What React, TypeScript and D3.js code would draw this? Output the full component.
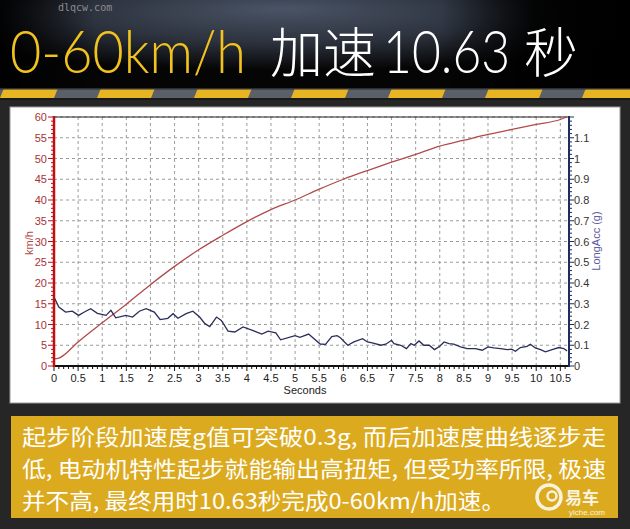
import React from "react";
import * as d3 from "d3";

const speedTime = [0, 0.1, 0.5, 1.0, 1.5, 2.0, 2.5, 3.0, 3.5, 4.0, 4.5, 5.0, 5.5, 6.0, 6.5, 7.0, 7.5, 8.0, 8.5, 9.0, 9.5, 10.0, 10.5, 10.63];
const speedKmh = [1.7, 1.9, 5.8, 10.4, 14.9, 19.6, 24.0, 28.0, 31.5, 34.8, 37.7, 40.0, 42.6, 45.0, 47.1, 49.1, 51.0, 53.0, 54.4, 55.8, 57.0, 58.2, 59.4, 60.0];

const accTime = [0, 0.1, 0.24, 0.38, 0.51, 0.63, 0.76, 0.9, 1.08, 1.18, 1.28, 1.49, 1.63, 1.77, 1.91, 2.08, 2.2, 2.36, 2.47, 2.57, 2.74, 2.88, 3.02, 3.13, 3.23, 3.37, 3.47, 3.61, 3.75, 3.92, 4.13, 4.31, 4.44, 4.6, 4.7, 5.0, 5.1, 5.28, 5.52, 5.63, 5.76, 5.87, 5.94, 6.09, 6.22, 6.4, 6.5, 6.6, 6.78, 6.88, 7.0, 7.05, 7.19, 7.31, 7.4, 7.47, 7.57, 7.67, 7.78, 7.89, 8.0, 8.09, 8.19, 8.29, 8.43, 8.57, 8.74, 8.88, 9.0, 9.12, 9.26, 9.4, 9.49, 9.57, 9.67, 9.81, 9.88, 9.98, 10.09, 10.19, 10.33, 10.47, 10.57, 10.64];
const accG = [0.332, 0.284, 0.26, 0.264, 0.244, 0.26, 0.276, 0.254, 0.244, 0.268, 0.232, 0.244, 0.236, 0.264, 0.276, 0.26, 0.224, 0.23, 0.252, 0.23, 0.252, 0.264, 0.236, 0.204, 0.19, 0.236, 0.22, 0.168, 0.164, 0.188, 0.17, 0.154, 0.168, 0.16, 0.126, 0.146, 0.138, 0.154, 0.106, 0.104, 0.142, 0.146, 0.136, 0.1, 0.116, 0.132, 0.116, 0.111, 0.1, 0.105, 0.124, 0.108, 0.1, 0.084, 0.108, 0.1, 0.121, 0.1, 0.1, 0.079, 0.095, 0.116, 0.108, 0.105, 0.092, 0.084, 0.084, 0.076, 0.092, 0.087, 0.084, 0.079, 0.081, 0.071, 0.089, 0.095, 0.105, 0.087, 0.079, 0.068, 0.079, 0.089, 0.084, 0.073];

const xTicks = [0, 0.5, 1, 1.5, 2, 2.5, 3, 3.5, 4, 4.5, 5, 5.5, 6, 6.5, 7, 7.5, 8, 8.5, 9, 9.5, 10, 10.5];
const leftTicks = [0, 5, 10, 15, 20, 25, 30, 35, 40, 45, 50, 55, 60];
const rightTicks = [0, 0.1, 0.2, 0.3, 0.4, 0.5, 0.6, 0.7, 0.8, 0.9, 1, 1.1];

const titleYellow = "0-60km/h";
const titleCjk1 = "加速";
const titleNum = "10.63";
const titleCjk2 = "秒";
const captionLines = [
  "起步阶段加速度g值可突破0.3g, 而后加速度曲线逐步走",
  "低, 电动机特性起步就能输出高扭矩, 但受功率所限, 极速",
  "并不高, 最终用时10.63秒完成0-60km/h加速。",
];
const captionWidths = [584, 584, 483];

export default function App() {
  const W = 630, H = 529;
  const x = d3.scaleLinear().domain([0, 10.68]).range([54, 569]);
  const yL = d3.scaleLinear().domain([0, 60]).range([366, 117]);
  const yR = d3.scaleLinear().domain([0, 1.2]).range([366, 117]);

  const speedLine = d3.line<number>().x((_, i) => x(speedTime[i])).y((d) => yL(d)).curve(d3.curveMonotoneX);
  const accLine = d3.line<number>().x((_, i) => x(accTime[i])).y((d) => yR(d));

  const xMinor = d3.range(0, 10.65, 0.1);
  const lMinor = d3.range(0, 60.01, 1);
  const rMinor = d3.range(0, 1.201, 0.02);

  const stripes = d3.range(-1, 8).map((i) => i * 97);
  const cjk = "'Noto Sans CJK SC', 'Noto Sans', sans-serif";
  const light = "Lato, 'Open Sans', sans-serif";
  const axisFont = "'Liberation Sans', Arial, sans-serif";

  return (
    <svg width={W} height={H} style={{ position: "absolute", left: 0, top: 0, display: "block" }}>
      <defs>
        <radialGradient id="titleBg" cx="0.45" cy="0.2" r="0.6" fx="0.45" fy="0.1">
          <stop offset="0" stopColor="#4a5466" />
          <stop offset="0.55" stopColor="#2c323d" />
          <stop offset="1" stopColor="#050505" />
        </radialGradient>
        <linearGradient id="sideFade" x1="0" x2="1" y1="0" y2="0">
          <stop offset="0" stopColor="#000" stopOpacity="0.9" />
          <stop offset="0.15" stopColor="#000" stopOpacity="0" />
          <stop offset="0.7" stopColor="#000" stopOpacity="0" />
          <stop offset="0.85" stopColor="#000" stopOpacity="0.9" />
          <stop offset="1" stopColor="#000" stopOpacity="1" />
        </linearGradient>
        <clipPath id="stripeClip">
          <rect x={0} y={88} width={W} height={10} />
        </clipPath>
      </defs>
      <rect x={0} y={0} width={W} height={H} fill="#262626" />
      <rect x={0} y={0} width={W} height={88} fill="url(#titleBg)" />
      <rect x={0} y={0} width={W} height={88} fill="url(#sideFade)" />
      <text x={58} y={11} fontFamily="'DejaVu Sans Mono', monospace" fontSize={10} fill="#8c8c8c">dlqcw.com</text>
      <text x={10} y={73} fontFamily={light} fontWeight={300} fontSize={60} fill="#f2c21f" textLength={236} lengthAdjust="spacingAndGlyphs">{titleYellow}</text>
      <text x={270} y={73} fontFamily={cjk} fontWeight={300} fontSize={54} fill="#ffffff" textLength={106} lengthAdjust="spacingAndGlyphs">{titleCjk1}</text>
      <text transform="translate(383,73) scale(0.83,1)" fontFamily={light} fontWeight={300} fontSize={60} fill="#ffffff">{titleNum}</text>
      <text x={524} y={73} fontFamily={cjk} fontWeight={300} fontSize={54} fill="#ffffff">{titleCjk2}</text>
      <rect x={0} y={88} width={W} height={10} fill="#5b6068" />
      <g clipPath="url(#stripeClip)">
        {stripes.map((s) => (
          <polygon key={s} points={`${s + 4},88 ${s + 58},88 ${s + 54},98 ${s},98`} fill="#e8b522" />
        ))}
      </g>
      <rect x={0} y={88} width={W} height={1.5} fill="#2b2e33" />
      <rect x={0} y={98} width={W} height={2} fill="#1a1a1a" />

      <rect x={10} y={107} width={610} height={296} fill="#ffffff" stroke="#9a9a9a" strokeWidth={1} />

      {xTicks.map((t) => (
        <line key={"gx" + t} x1={x(t)} x2={x(t)} y1={117} y2={366} stroke="#9c9c9c" strokeDasharray="3,3" />
      ))}
      {leftTicks.map((t) => (
        <line key={"gy" + t} x1={54} x2={569} y1={yL(t)} y2={yL(t)} stroke="#9c9c9c" strokeDasharray="3,3" />
      ))}
      <line x1={54} x2={569} y1={117} y2={117} stroke="#222" strokeWidth={1.2} />

      <path d={speedLine(speedKmh) || ""} fill="none" stroke="#b24a4a" strokeWidth={1.3} />
      <path d={accLine(accG) || ""} fill="none" stroke="#2b2d5a" strokeWidth={1.3} />

      <line x1={54} x2={569} y1={366} y2={366} stroke="#111" strokeWidth={2} />
      {xMinor.map((t, i) => (
        <line key={"xm" + i} x1={x(t)} x2={x(t)} y1={366} y2={i % 5 === 0 ? 371 : 369} stroke="#111" strokeWidth={1} />
      ))}
      {xTicks.map((t) => (
        <text key={"xl" + t} x={x(t)} y={382} textAnchor="middle" fontFamily={axisFont} fontSize={11} fill="#222">{t}</text>
      ))}
      <text x={305} y={394} textAnchor="middle" fontFamily={axisFont} fontSize={11} fill="#222">Seconds</text>

      <line x1={54} x2={54} y1={116} y2={367} stroke="#c01010" strokeWidth={2.5} />
      {lMinor.map((t, i) => (
        <line key={"lm" + i} x1={i % 5 === 0 ? 48 : 51} x2={54} y1={yL(t)} y2={yL(t)} stroke="#c01010" strokeWidth={1} />
      ))}
      {leftTicks.map((t) => (
        <text key={"ll" + t} x={47} y={yL(t) + 4} textAnchor="end" fontFamily={axisFont} fontSize={11} fill="#a83232">{t}</text>
      ))}
      <text transform="translate(33,243) rotate(-90)" textAnchor="middle" fontFamily={axisFont} fontSize={11} fill="#b04848">km/h</text>

      <line x1={569} x2={569} y1={116} y2={367} stroke="#1f2c5e" strokeWidth={2} />
      {rMinor.map((t, i) => (
        <line key={"rm" + i} x1={569} x2={i % 5 === 0 ? 574 : 572} y1={yR(t)} y2={yR(t)} stroke="#1f2c5e" strokeWidth={1} />
      ))}
      {rightTicks.map((t) => (
        <text key={"rl" + t} x={574} y={yR(t) + 4} textAnchor="start" fontFamily={axisFont} fontSize={11} fill="#333">{t}</text>
      ))}
      <text transform="translate(600,241) rotate(-90)" textAnchor="middle" fontFamily={axisFont} fontSize={11} fill="#5a5a9e">LongAcc (g)</text>

      <rect x={11} y={416} width={607} height={102} fill="#dcaa1e" />
      {captionLines.map((l, i) => (
        <text key={"c" + i} x={22} y={445 + i * 31.9} fontFamily={cjk} fontSize={22} fill="#ffffff"
          textLength={captionWidths[i]} lengthAdjust="spacingAndGlyphs">{l}</text>
      ))}
      <g opacity={0.85}>
        <circle cx={549} cy={497} r={12} fill="none" stroke="#ffffff" strokeWidth={3.5} />
        <circle cx={552} cy={496} r={4.5} fill="none" stroke="#ffffff" strokeWidth={2.5} />
        <text x={565} y={504} fontFamily={cjk} fontWeight={700} fontSize={17} fill="#ffffff">易车</text>
        <text x={569} y={515} fontFamily={axisFont} fontSize={8} fill="#ffffff">yiche.com</text>
      </g>
    </svg>
  );
}
